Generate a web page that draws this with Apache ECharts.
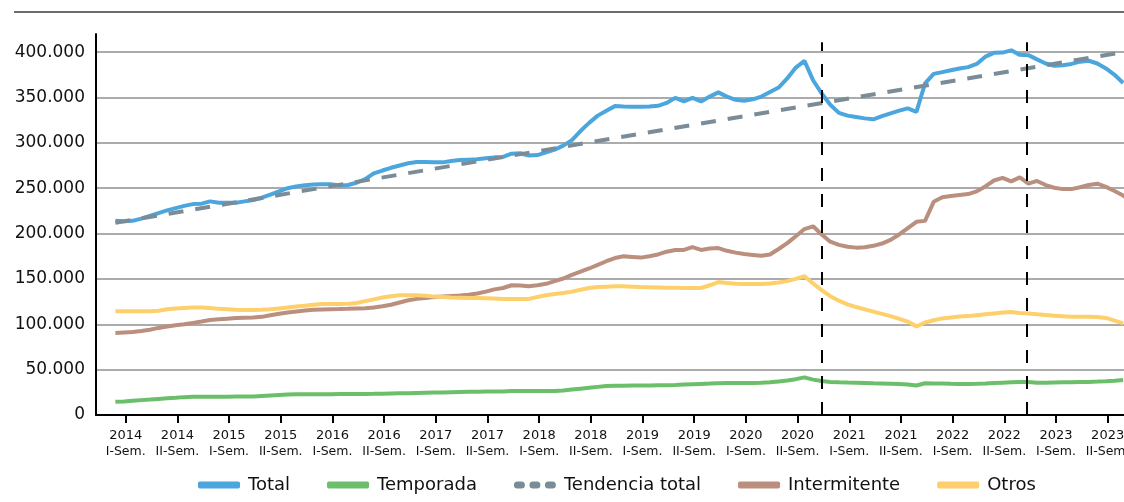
<!DOCTYPE html>
<html><head><meta charset="utf-8">
<script src="https://cdn.jsdelivr.net/npm/echarts@6/dist/echarts.min.js"></script>
<style>html,body{margin:0;padding:0;background:#fff}#c{width:1124px;height:502px}</style>
</head><body><div id="c"></div>
<script>
// Tick labels (semesters)
const tickYears = ['2014','2014','2015','2015','2016','2016','2017','2017','2018','2018','2019','2019','2020','2020','2021','2021','2022','2022','2023','2023'];
const tickSems = ['I-Sem.','II-Sem.','I-Sem.','II-Sem.','I-Sem.','II-Sem.','I-Sem.','II-Sem.','I-Sem.','II-Sem.','I-Sem.','II-Sem.','I-Sem.','II-Sem.','I-Sem.','II-Sem.','I-Sem.','II-Sem.','I-Sem.','II-Sem.'];
// Monthly series (thousands)
const total = [214,213.5,214,216.5,219.5,222.5,225.5,228,230.5,232.5,233,235.5,234,234,234,235.5,237,239.5,243,246.5,
250,252,253.4,254,254.3,254.5,253,253.5,256,260,266.3,269.5,272.5,275,277.5,278.8,278.8,278.6,278.5,280,
281,281.5,282,283,284,284.5,288,288.5,286,286.5,289.5,292.5,297,303,313,322,330,335.5,340.5,340,
339.7,339.7,340,340.8,344,349.6,345.7,349.6,345.7,351,355.6,351,347.5,346.5,348,351,356,361,371,383,
390.4,369,354.5,342,333,330,328.5,327,326,329.5,332.5,335.5,338,334.2,365.5,376,378,380,382,383.5,
387,395,399.2,399.5,402,397,396.7,392,387.5,385,385.5,387,389.5,390.5,387.5,382,375,366];
const temporada = [14.5,15,15.7,16.4,17,17.7,18.4,19,19.7,20.2,20.2,20.2,20.2,20.2,20.3,20.4,20.5,21,21.5,22,
22.5,22.8,22.9,23,23,23,23.1,23.1,23.2,23.2,23.3,23.5,23.7,23.9,24.1,24.3,24.5,24.7,24.9,25.1,
25.3,25.5,25.7,25.8,25.9,26,26.4,26.4,26.4,26.4,26.4,26.4,27,28,29,30,31,32,32.2,32.3,
32.4,32.5,32.6,32.7,32.8,33,33.5,34,34.3,34.6,35,35.2,35.3,35.3,35.3,35.5,36,37,38,39.5,
41.5,39,37.5,36.5,36,35.7,35.5,35.3,35,34.8,34.5,34.2,33.5,32.5,35,34.8,34.6,34.4,34.3,34.3,
34.5,34.8,35.2,35.6,36,36.4,36.5,35.5,35.6,35.8,36,36.1,36.3,36.5,36.8,37.2,37.8,38.5];
const intermitente = [90.5,91,91.5,92.5,94,96,97.5,99,100,101.5,103,104.7,105.5,106.2,106.8,107.2,107.6,108.2,110,111.7,
113,114.2,115.2,116,116.3,116.6,116.8,117.1,117.5,117.8,118.6,119.8,121.5,124,126.5,128,129,130,130.6,131.2,
131.8,132.6,134,136,138.5,140,143,142.8,142,143,144.6,147.5,150.5,154.5,158,161.5,165.5,169.5,173,175,
174.3,173.5,175,177,180,181.8,182,185,182,183.5,184,181,179,177.5,176.5,175.5,177,183,189.5,197,
205,208,199,191,187.5,185.5,184.5,185,186.5,189,193,199,206,213,214,235,240,241.5,242.5,243.5,
246.5,252,258.5,261.5,257.5,262,255,258,253.5,250.5,249,249,251,253.5,255,251.5,247,242,234];
const otros = [114.5,114.5,114.5,114.5,114.5,115,116.5,117.5,118,118.5,118.5,118,117,116.5,116,115.7,115.7,116,116.5,117.5,
118.5,119.5,120.5,121.5,122.3,122.3,122.3,122.5,123.5,125.5,127.5,129.5,131,132,132,132,131.5,130.5,130,129.5,
129.3,129,129,128.8,128.5,128,127.8,127.8,128,130,132,133.3,134.5,136,138,140,141,141.5,142,141.8,
141.5,141,140.8,140.6,140.4,140.2,140,140,140,143,146.5,145.5,144.8,144.5,144.4,144.5,145,146,147.6,150,
153,145,137.7,131,126,122,119,116.5,114,111.5,109,106,103,97.5,102,104.5,106.5,107.5,108.5,109,
110,111,112,113,113.5,112.5,112,111,110.2,109.5,108.8,108.3,108.3,108.3,108,107,104,101];
// Linear trend of total: start and end values (thousands)
const trendStart = 212, trendEnd = 400;
// Period breaks (month index)
const periodBreaks = [82, 105.8];

const scale = 1000;
const firstTick = 1.2, ticksPerSem = 6;
const tickPositions = tickYears.map((_, k) => firstTick + ticksPerSem * k);
const toXY = arr => arr.map((v, i) => [i, v * scale]);
const lastIdx = total.length - 1;
const trendData = [[0, trendStart * scale], [lastIdx, trendEnd * scale]];
const fmt = v => String(Math.round(v)).replace(/\B(?=(\d{3})+(?!\d))/g, '.');
const FONT = 'DejaVu Sans';
const dotsIcon = 'path://M3.5,0H7.5A3.5,3.5 0 0 1 7.5,7H3.5A3.5,3.5 0 0 1 3.5,0ZM19,0H23A3.5,3.5 0 0 1 23,7H19A3.5,3.5 0 0 1 19,0ZM34.5,0H38.5A3.5,3.5 0 0 1 38.5,7H34.5A3.5,3.5 0 0 1 34.5,0Z';

const chart = echarts.init(document.getElementById('c'), null, {renderer: 'canvas'});
const lineW = 4;
chart.setOption({
  animation: false,
  backgroundColor: '#fff',
  textStyle: {fontFamily: FONT},
  graphic: [{type: 'line', shape: {x1: 14, y1: 12, x2: 1124, y2: 12}, style: {stroke: '#6b6b6b', lineWidth: 2}}],
  grid: {left: 96, right: -25, top: 34, bottom: 87, containLabel: false, outerBoundsMode: 'none'},
  legend: {
    left: 193, top: 471, itemWidth: 42, itemHeight: 7, itemGap: 37,
    textStyle: {fontSize: 18, color: '#111', fontFamily: FONT, padding: [0, 0, 0, 3]},
    data: [
      {name: 'Total', icon: 'roundRect'},
      {name: 'Temporada', icon: 'roundRect'},
      {name: 'Tendencia total', icon: dotsIcon},
      {name: 'Intermitente', icon: 'roundRect'},
      {name: 'Otros', icon: 'roundRect'}
    ]
  },
  xAxis: {
    type: 'value', min: -2.25, max: 120,
    axisLine: {show: true, onZero: false, lineStyle: {color: '#000', width: 2}},
    axisTick: {show: true, customValues: tickPositions, length: 8, lineStyle: {color: '#000', width: 2}},
    splitLine: {show: false},
    axisLabel: {
      customValues: tickPositions, margin: 13, color: '#111',
      formatter: v => { const k = Math.round((v - firstTick) / ticksPerSem); return '{y|' + tickYears[k] + '}\n{s|' + tickSems[k] + '}'; },
      rich: {y: {fontSize: 13, fontFamily: FONT, lineHeight: 16, color: '#111'}, s: {fontSize: 12.5, fontFamily: FONT, lineHeight: 16, color: '#111'}}
    }
  },
  yAxis: {
    type: 'value', min: 0, max: 420000, interval: 50000,
    axisLine: {show: true, onZero: false, lineStyle: {color: '#000', width: 2}},
    axisTick: {show: false},
    splitLine: {show: true, showMaxLine: false, lineStyle: {color: '#8f8f8f', width: 1.5}},
    axisLabel: {showMaxLabel: false, fontSize: 17, color: '#111', margin: 11, formatter: v => fmt(v)}
  },
  series: [
    {name: 'Total', type: 'line', data: toXY(total), showSymbol: false, symbol: 'none', lineStyle: {color: '#4ba6de', width: lineW}, itemStyle: {color: '#4ba6de'}, z: 3},
    {name: 'Temporada', type: 'line', data: toXY(temporada), showSymbol: false, symbol: 'none', lineStyle: {color: '#6cbf6a', width: lineW}, itemStyle: {color: '#6cbf6a'}, z: 3,
      markLine: {silent: true, symbol: ['none', 'none'], label: {show: false}, lineStyle: {color: '#000', width: 2, type: [13, 13]},
        data: periodBreaks.map(x => [{xAxis: x, yAxis: 0}, {xAxis: x, yAxis: 411000}])}},
    {name: 'Tendencia total', type: 'line', data: trendData, showSymbol: false, symbol: 'none', lineStyle: {color: '#7a8c97', width: lineW, type: [15, 12]}, itemStyle: {color: '#7a8c97'}, z: 4},
    {name: 'Intermitente', type: 'line', data: toXY(intermitente), showSymbol: false, symbol: 'none', lineStyle: {color: '#bb8f7e', width: lineW}, itemStyle: {color: '#bb8f7e'}, z: 3},
    {name: 'Otros', type: 'line', data: toXY(otros), showSymbol: false, symbol: 'none', lineStyle: {color: '#fdd06c', width: lineW}, itemStyle: {color: '#fdd06c'}, z: 3}
  ]
});
</script></body></html>
